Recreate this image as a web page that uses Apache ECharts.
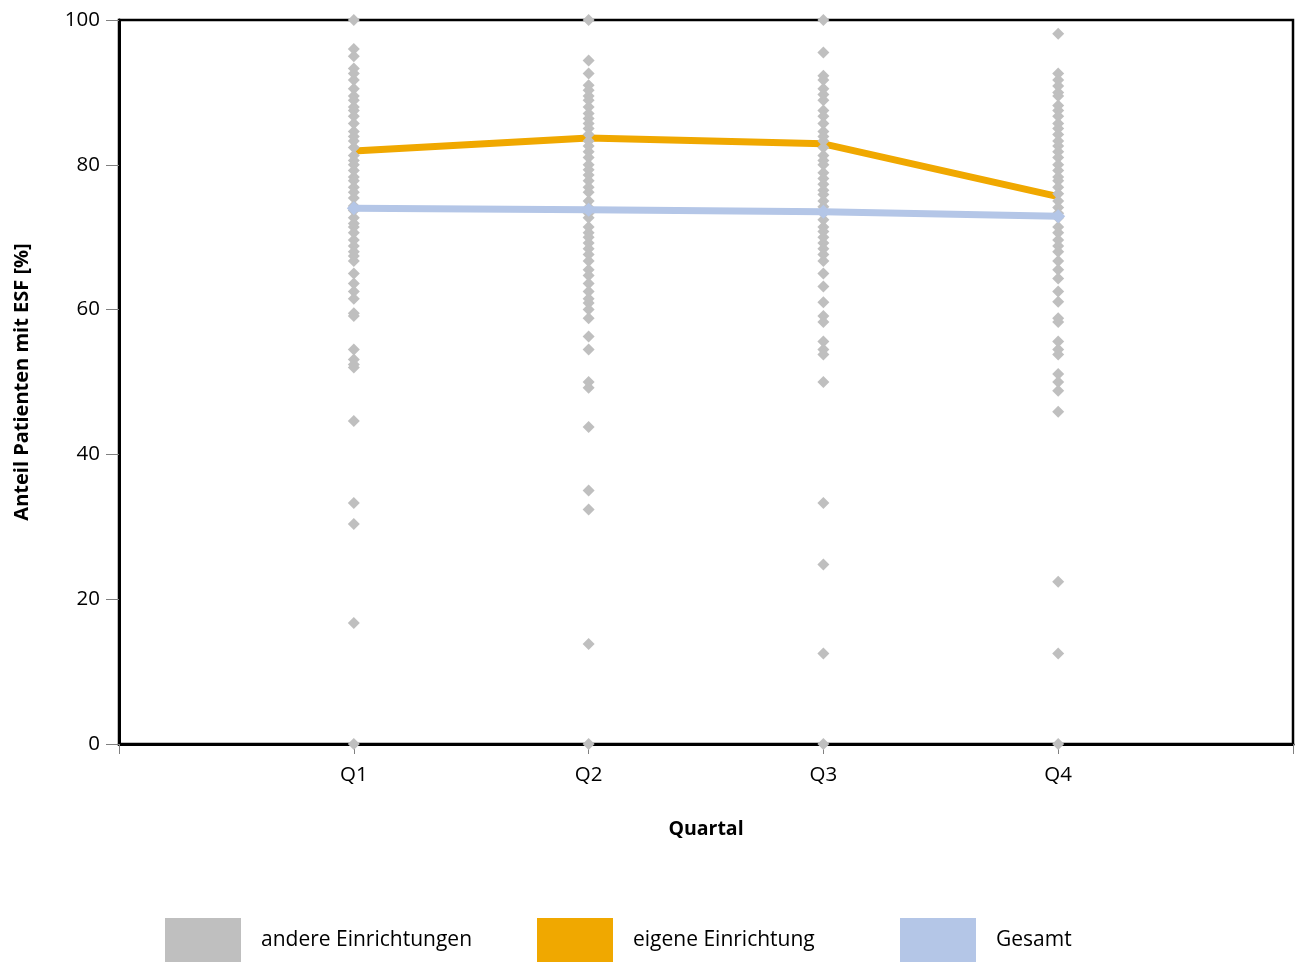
<!DOCTYPE html>
<html>
<head>
<meta charset="utf-8">
<script src="https://cdn.jsdelivr.net/npm/echarts@6/dist/echarts.min.js"></script>
<style>html,body{margin:0;padding:0;background:#fff}#c{width:1298px;height:962px}</style>
</head>
<body>
<div id="c"></div>
<script>
const categories = ['Q1', 'Q2', 'Q3', 'Q4'];
const yTicks = [0, 20, 40, 60, 80, 100];
const andereQ1 = [100, 96, 95, 93.3, 92.6, 91.7, 90.5, 89.5, 88.9, 88, 87.5, 86.7, 85.7, 84.6, 83.9, 83.3, 82.4, 81.3, 80.6, 80, 79.2, 78.3, 77.8, 76.9, 76.2, 75.4, 74.3, 73.7, 72.7, 71.9, 71.4, 70.6, 69.6, 68.8, 68, 67.4, 66.7, 65, 63.6, 62.5, 61.5, 59.5, 59.1, 54.5, 53.1, 52.4, 52, 44.6, 33.3, 30.4, 16.7, 0];
const andereQ2 = [100, 94.4, 92.6, 91, 90.3, 89.5, 88.9, 88, 87.1, 86.4, 85.7, 85, 84.2, 83.3, 82.6, 81.8, 81, 80, 79.3, 78.6, 77.8, 76.9, 76.2, 75, 74.1, 73.3, 72.7, 71.4, 70.6, 70, 69.2, 68.4, 67.6, 66.7, 65.5, 64.7, 63.6, 62.5, 61.5, 60.9, 60, 58.8, 56.3, 54.5, 50, 49.2, 43.8, 35, 32.4, 13.8, 0];
const andereQ3 = [100, 95.5, 92.3, 91.7, 90.5, 89.7, 88.9, 87.5, 86.7, 85.7, 84.6, 83.9, 83.3, 82.4, 81.3, 80.6, 80, 78.9, 78.1, 77.3, 76.5, 75.9, 75, 74.2, 73.3, 72.4, 71.4, 70.8, 70, 69.2, 68.4, 67.6, 66.7, 65, 63.2, 61, 59.1, 58.3, 55.6, 54.5, 53.8, 50, 33.3, 24.8, 12.5, 0];
const andereQ4 = [98.1, 92.6, 91.7, 90.9, 90, 89.5, 88.2, 87.5, 86.7, 85.7, 85, 84.2, 83.3, 82.6, 81.8, 81, 80, 79.2, 78.3, 77.8, 76.9, 76, 75, 74.1, 73.3, 72.7, 71.4, 70.6, 69.6, 68.8, 68, 66.7, 65.5, 64.3, 62.5, 61.1, 58.8, 58.3, 55.6, 54.5, 53.8, 51.1, 50, 48.8, 45.9, 22.4, 12.5, 0];
const eigene = [81.9, 83.7, 82.9, 75.6];
const gesamt = [74.0, 73.8, 73.5, 72.9];

const andere = [andereQ1, andereQ2, andereQ3, andereQ4];
const scatterData = [];
andere.forEach((arr, i) => arr.forEach(v => scatterData.push([i + 1, v])));
const eigeneData = eigene.map((v, i) => [i + 1, v]);
const gesamtData = gesamt.map((v, i) => [i + 1, v]);

const FONT = '"Open Sans", "Noto Sans", sans-serif';
const chart = echarts.init(document.getElementById('c'), null, {renderer: 'canvas'});
const legendBase = {
  orient: 'horizontal', top: 918, itemWidth: 76, itemHeight: 44, icon: 'rect',
  selectedMode: false, padding: 0,
  textStyle: {fontFamily: FONT, fontSize: 21, color: '#000', padding: [0, 0, 0, 15]}
};
chart.setOption({
  animation: false,
  grid: {left: 119, right: 5, top: 20, bottom: 218, show: true, borderColor: '#000', borderWidth: 2.5, containLabel: false},
  xAxis: {
    type: 'value', min: 0, max: categories.length + 1, interval: 1,
    name: 'Quartal', nameLocation: 'middle', nameGap: 75,
    nameTextStyle: {fontFamily: FONT, fontSize: 19.5, fontWeight: 'bold', color: '#000'},
    axisLine: {show: true, lineStyle: {color: '#000', width: 3}},
    axisTick: {show: true, length: 10, lineStyle: {color: '#808080', width: 1}},
    axisLabel: {fontFamily: FONT, fontSize: 20.5, color: '#000', margin: 21,
      formatter: v => (v >= 1 && v <= categories.length) ? categories[v - 1] : ''},
    splitLine: {show: false}
  },
  yAxis: {
    type: 'value', min: yTicks[0], max: yTicks[yTicks.length - 1], interval: 20,
    name: 'Anteil Patienten mit ESF [%]', nameLocation: 'middle', nameGap: 87, nameRotate: 90,
    nameTextStyle: {fontFamily: FONT, fontSize: 20, fontWeight: 'bold', color: '#000'},
    axisLine: {show: true, lineStyle: {color: '#000', width: 3}},
    axisTick: {show: true, length: 13, lineStyle: {color: '#808080', width: 1}},
    axisLabel: {fontFamily: FONT, fontSize: 20.5, color: '#000', margin: 19},
    splitLine: {show: false}
  },
  legend: [
    Object.assign({}, legendBase, {left: 165, data: ['andere Einrichtungen']}),
    Object.assign({}, legendBase, {left: 537, data: ['eigene Einrichtung']}),
    Object.assign({}, legendBase, {left: 900, data: ['Gesamt']})
  ],
  series: [
    {name: 'eigene Einrichtung', type: 'line', data: eigeneData, symbol: 'none',
      lineStyle: {color: '#F0A800', width: 7}, itemStyle: {color: '#F0A800'}, z: 2},
    {name: 'andere Einrichtungen', type: 'scatter', data: scatterData, symbol: 'diamond', symbolSize: 12,
      itemStyle: {color: '#BFBFBF', opacity: 1}, z: 3},
    {name: 'Gesamt', type: 'line', data: gesamtData, symbol: 'diamond', symbolSize: 14, showSymbol: true,
      lineStyle: {color: '#B4C6E7', width: 7}, itemStyle: {color: '#B4C6E7'}, z: 4}
  ]
});
</script>
</body>
</html>
